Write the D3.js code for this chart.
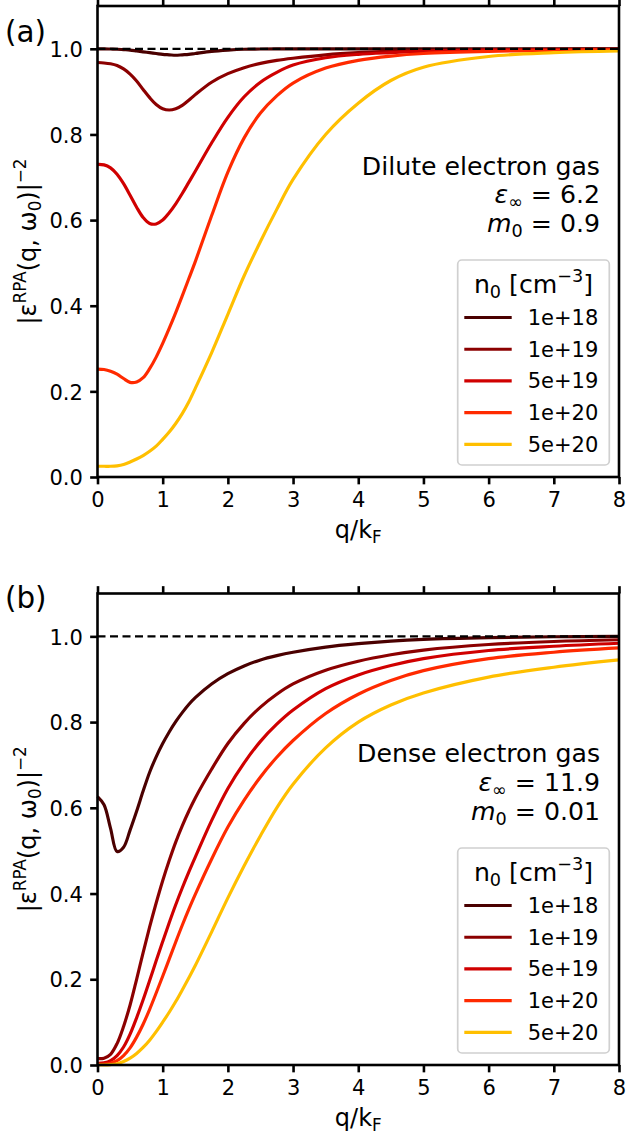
<!DOCTYPE html>
<html><head><meta charset="utf-8">
<script src="https://cdn.jsdelivr.net/npm/d3@7"></script>
<style>body{margin:0;background:#fff} svg{display:block} text{font-family:"DejaVu Sans",sans-serif;fill:#000}</style>
</head><body><svg id="c" width="627" height="1142"></svg>
<script>
// ---------------- data ----------------
const qGrid = [0,0.1,0.2,0.3,0.4,0.5,0.6,0.7,0.8,0.9,1.0,1.1,1.2,1.3,1.4,1.5,1.75,2.0,2.25,2.5,2.75,3.0,3.5,4.0,4.5,5.0,6.0,7.0,8.0];
const densityLabels = ["1e+18","1e+19","5e+19","1e+20","5e+20"];
const densityColors = ["#4a0000","#8b0000","#d00000","#ff2a00","#ffbf00"];
const xTicks = [0,1,2,3,4,5,6,7,8];
const yTicks = [0,0.2,0.4,0.6,0.8,1.0];

// (a) dilute electron gas
const dilute_1e18 = [1.0,1.0,0.9995,0.999,0.998,0.997,0.995,0.993,0.991,0.989,0.987,0.986,0.985,0.986,0.987,0.989,0.994,0.997,0.999,0.9995,1.0,1.0,1.0,1.0,1.0,1.0,1.0,1.0,1.0];
const dilute_1e19 = [0.968,0.967,0.965,0.961,0.953,0.941,0.925,0.905,0.886,0.870,0.860,0.857,0.860,0.868,0.880,0.893,0.922,0.942,0.956,0.966,0.973,0.978,0.986,0.991,0.994,0.996,0.998,0.999,0.9995];
const dilute_5e19 = [0.730,0.729,0.722,0.707,0.685,0.658,0.630,0.606,0.592,0.591,0.600,0.617,0.638,0.662,0.688,0.714,0.780,0.840,0.888,0.922,0.945,0.962,0.979,0.987,0.991,0.994,0.997,0.998,0.999];
const dilute_1e20 = [0.252,0.251,0.247,0.240,0.230,0.221,0.222,0.232,0.253,0.280,0.312,0.347,0.384,0.423,0.463,0.503,0.610,0.712,0.792,0.850,0.890,0.920,0.955,0.973,0.983,0.989,0.994,0.996,0.998];
const dilute_5e20 = [0.025,0.025,0.025,0.026,0.029,0.035,0.042,0.050,0.060,0.072,0.088,0.105,0.125,0.148,0.175,0.207,0.290,0.380,0.470,0.550,0.625,0.695,0.800,0.873,0.926,0.957,0.982,0.991,0.995];

// (b) dense electron gas
const dense_1e18 = [0.626,0.607,0.552,0.498,0.508,0.548,0.592,0.639,0.683,0.719,0.750,0.777,0.801,0.822,0.841,0.857,0.889,0.913,0.931,0.945,0.955,0.963,0.975,0.983,0.989,0.993,0.997,0.999,1.0];
const dense_1e19 = [0.015,0.016,0.025,0.050,0.090,0.140,0.200,0.262,0.322,0.378,0.430,0.477,0.520,0.558,0.592,0.623,0.690,0.750,0.797,0.835,0.865,0.889,0.921,0.942,0.957,0.968,0.981,0.988,0.992];
const dense_5e19 = [0.004,0.005,0.010,0.022,0.042,0.072,0.110,0.152,0.197,0.243,0.288,0.332,0.374,0.413,0.450,0.485,0.570,0.645,0.705,0.755,0.795,0.828,0.878,0.910,0.932,0.948,0.967,0.977,0.984];
const dense_1e20 = [0.002,0.002,0.004,0.010,0.022,0.040,0.065,0.095,0.130,0.168,0.207,0.247,0.287,0.326,0.363,0.398,0.480,0.555,0.618,0.672,0.718,0.757,0.820,0.865,0.897,0.920,0.948,0.963,0.973];
const dense_5e20 = [0.0,0.0,0.001,0.003,0.008,0.016,0.027,0.041,0.058,0.078,0.100,0.123,0.148,0.175,0.203,0.232,0.310,0.390,0.465,0.535,0.600,0.655,0.740,0.800,0.840,0.868,0.905,0.928,0.945];

const panels = [
  {tag:"(a)", title:"Dilute electron gas", epsText:" = 6.2", mText:" = 0.9",
   series:[dilute_1e18,dilute_1e19,dilute_5e19,dilute_1e20,dilute_5e20],
   top:6, bottom:477, tagY:42},
  {tag:"(b)", title:"Dense electron gas", epsText:" = 11.9", mText:" = 0.01",
   series:[dense_1e18,dense_1e19,dense_5e19,dense_1e20,dense_5e20],
   top:593.5, bottom:1065, tagY:608}
];

// ---------------- drawing ----------------
const svg = d3.select("#c");
const L = 97.5, R = 619;
const tickFs = 21, labFs = 24, annFs = 25.2, tagFs = 29.4;
const spineW = 2.6, tickLen = 7.35;

function rich(g, x, y, parts, fs, anchor) {
  const t = g.append("text").attr("x", x).attr("y", y).attr("font-size", fs).attr("text-anchor", anchor || "start");
  let shift = 0;
  parts.forEach(p => {
    const s = t.append("tspan").text(p.t);
    let target = 0;
    if (p.sup) target = -0.42 * fs; else if (p.sub) target = 0.2 * fs;
    s.attr("dy", target - shift); shift = target;
    if (p.sup || p.sub) s.attr("font-size", fs * 0.7);
    if (p.it) s.attr("font-style", "italic");
  });
  return t;
}

panels.forEach(P => {
  const g = svg.append("g");
  const x = d3.scaleLinear().domain([0, 8]).range([L, R]);
  const y = d3.scaleLinear().domain([0, 1.1]).range([P.bottom, P.top]);

  // curves
  const line = d3.line().x((d, i) => x(qGrid[i])).y(d => y(d)).curve(d3.curveCatmullRom.alpha(0.5));
  P.series.forEach((s, k) => {
    g.append("path").datum(s).attr("d", line).attr("fill", "none")
      .attr("stroke", densityColors[k]).attr("stroke-width", 3.15)
      .attr("stroke-linejoin", "round").attr("stroke-linecap", "butt");
  });
  // dashed reference
  g.append("line").attr("x1", x(0)).attr("x2", x(8)).attr("y1", y(1)).attr("y2", y(1))
    .attr("stroke", "#000").attr("stroke-width", 2.2).attr("stroke-dasharray", "8,4.5");

  // axes
  const styleAxis = a => {
    a.select(".domain").remove();
    a.selectAll(".tick line").attr("stroke", "#000").attr("stroke-width", spineW);
    a.selectAll(".tick text").attr("font-size", tickFs).attr("font-family", "DejaVu Sans").attr("fill", "#000");
  };
  const ax = g.append("g").attr("transform", `translate(0,${P.bottom})`)
    .call(d3.axisBottom(x).tickValues(xTicks).tickFormat(d3.format("d")).tickSize(tickLen).tickSizeOuter(0).tickPadding(7.3));
  styleAxis(ax);
  ax.selectAll(".tick text").attr("dy", null).attr("y", 29.7);
  const axT = g.append("g").attr("transform", `translate(0,${P.top})`)
    .call(d3.axisTop(x).tickValues(xTicks).tickFormat("").tickSize(tickLen).tickSizeOuter(0));
  styleAxis(axT);
  const ay = g.append("g").attr("transform", `translate(${L},0)`)
    .call(d3.axisLeft(y).tickValues(yTicks).tickFormat(d3.format(".1f")).tickSize(tickLen).tickSizeOuter(0).tickPadding(7.35));
  styleAxis(ay);
  ay.selectAll(".tick text").attr("dy", null).attr("y", 7.7);

  // frame
  g.append("rect").attr("x", L).attr("y", P.top).attr("width", R - L).attr("height", P.bottom - P.top)
    .attr("fill", "none").attr("stroke", "#000").attr("stroke-width", spineW);

  // axis labels
  rich(g, (L + R) / 2, P.bottom + 61, [{t:"q/k"}, {t:"F", sub:true}], labFs, "middle");
  const yl = rich(g, 0, 0, [{t:"|ε"}, {t:"RPA", sup:true}, {t:"(q, ω"}, {t:"0", sub:true}, {t:")|"}, {t:"−2", sup:true}], labFs, "middle");
  yl.attr("transform", `translate(36,${(P.top + P.bottom) / 2}) rotate(-90)`);

  // panel tag
  g.append("text").attr("x", 5).attr("y", P.tagY).attr("font-size", tagFs).text(P.tag);

  // annotation
  const aY = P.top + 168.5, aX = 600;
  g.append("text").attr("x", aX).attr("y", aY).attr("font-size", annFs).attr("text-anchor", "end").text(P.title);
  rich(g, aX, aY + 28.8, [{t:"ε", it:true}, {t:"∞", sub:true}, {t:P.epsText}], annFs, "end");
  rich(g, aX, aY + 57.6, [{t:"m", it:true}, {t:"0", sub:true}, {t:P.mText}], annFs, "end");

  // legend
  const bBot = P.bottom - 12, bTop = bBot - 205, bL = 457.7, bR = 609.3;
  g.append("rect").attr("x", bL).attr("y", bTop).attr("width", bR - bL).attr("height", bBot - bTop)
    .attr("rx", 4.2).attr("fill", "#fff").attr("fill-opacity", 0.8).attr("stroke", "#d0d0d0").attr("stroke-width", 1.7);
  rich(g, (bL + bR) / 2, bTop + 32.5, [{t:"n"}, {t:"0", sub:true}, {t:" [cm"}, {t:"−3", sup:true}, {t:"]"}], annFs, "middle");
  densityLabels.forEach((lab, k) => {
    const by = bTop + 65 + k * 31.7;
    g.append("line").attr("x1", 464.3).attr("x2", 511.7).attr("y1", by - 7.5).attr("y2", by - 7.5)
      .attr("stroke", densityColors[k]).attr("stroke-width", 3.15);
    g.append("text").attr("x", 527.7).attr("y", by).attr("font-size", tickFs).text(lab);
  });
});
</script></body></html>
